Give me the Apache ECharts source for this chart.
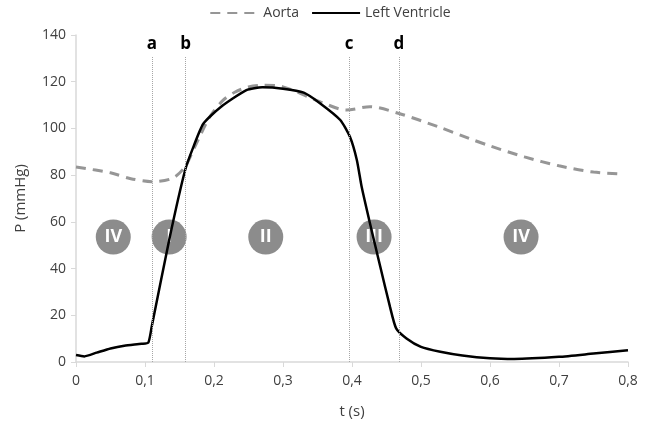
<!DOCTYPE html>
<html><head><meta charset="utf-8">
<script src="https://cdn.jsdelivr.net/npm/echarts@6/dist/echarts.min.js"></script>
<style>html,body{margin:0;padding:0;background:#fff}#c{width:660px;height:428px}</style>
</head><body><div id="c"></div>
<script>
var aortaT = [0,0.05,0.078,0.11,0.14,0.158,0.172,0.194,0.213,0.23,0.25,0.27,0.3,0.354,0.392,0.426,0.467,0.525,0.57,0.6,0.65,0.7,0.75,0.79];
var aortaP = [83.5,81,78.6,77.2,78.7,83.6,92,105,112,115.5,117.8,118.5,117.8,111.4,107.9,109.3,106.5,100.7,95.7,92.5,87.8,84,81.3,80.5];
var lvT = [0,0.012,0.03,0.05,0.07,0.095,0.1048,0.1097,0.136,0.158,0.17,0.1845,0.209,0.247,0.27,0.3,0.33,0.354,0.383,0.397,0.407,0.414,0.426,0.441,0.455,0.464,0.479,0.5,0.528,0.56,0.6,0.635,0.7,0.75,0.8];
var lvP = [3,2.4,4,5.8,7,7.8,8.3,15.1,53.6,82,92,102,109,116.4,117.6,117,115.3,110.7,103.6,96.4,86.5,75,59.4,40.8,23.7,14.4,10.1,6.5,4.4,2.8,1.6,1.3,2.2,3.6,5];
var phaseT = [0.11,0.159,0.396,0.468];
var phaseLabels = ['a','b','c','d'];
var circleT = [0.054,0.135,0.275,0.432,0.645];
var circleLabels = ['IV','I','II','III','IV'];
var circleP = 53.5;

var font = 'Open Sans';
var chart = echarts.init(document.getElementById('c'));
function zip(a,b){return a.map(function(v,i){return [v,b[i]];});}
chart.setOption({
  animation:false,
  textStyle:{fontFamily:font},
  legend:{top:1,left:'center',itemWidth:48,itemGap:12,itemStyle:{opacity:0},
    textStyle:{fontSize:14,color:'#404040',fontFamily:font},
    data:['Aorta','Left Ventricle']},
  grid:{left:76,right:32,top:35,bottom:66},
  xAxis:{type:'value',min:0,max:0.8,interval:0.1,
    name:'t (s)',nameLocation:'middle',nameGap:42,nameTextStyle:{fontSize:15,color:'#404040'},
    axisLine:{lineStyle:{color:'#d9d9d9',width:1.5}},axisTick:{show:true,length:5,lineStyle:{color:'#d9d9d9'}},
    axisLabel:{fontSize:14,color:'#404040',margin:12,formatter:function(v){return String(+v.toFixed(1)).replace('.',',');}},
    splitLine:{show:false}},
  yAxis:{type:'value',min:0,max:140,interval:20,
    name:'P (mmHg)',nameLocation:'middle',nameGap:48,nameTextStyle:{fontSize:15,color:'#404040'},
    axisLine:{show:true,lineStyle:{color:'#d9d9d9',width:1.5}},axisTick:{show:true,length:5,lineStyle:{color:'#d9d9d9'}},
    axisLabel:{fontSize:14,color:'#404040',margin:10},
    splitLine:{show:false}},
  series:[
    {type:'scatter',name:'phases',z:1,data:circleT.map(function(t,i){return {value:[t,circleP],label:{formatter:circleLabels[i]}};}),
      symbolSize:35,itemStyle:{color:'#8c8c8c',opacity:1},
      label:{show:true,position:'inside',color:'#fff',fontWeight:'bold',fontSize:18,fontFamily:font},
      silent:true},
    {type:'line',name:'marks',z:2,data:[],symbol:'none',
      markLine:{silent:true,symbol:'none',
        lineStyle:{type:'dotted',color:'#a6a6a6',width:1},
        label:{show:true,position:'end',color:'#000',fontWeight:'bold',fontSize:17,distance:3,fontFamily:font},
        data:phaseT.map(function(t,i){return [{coord:[t,0],label:{formatter:phaseLabels[i]}},{coord:[t,131]}];})}},
    {type:'line',name:'Aorta',z:3,data:zip(aortaT,aortaP),smooth:0.3,symbol:'none',
      lineStyle:{color:'#969696',width:3,type:[10,7]},itemStyle:{color:'#969696'}},
    {type:'line',name:'Left Ventricle',z:4,data:zip(lvT,lvP),smooth:0.2,symbol:'none',
      lineStyle:{color:'#000',width:2.5},itemStyle:{color:'#000'}}
  ]
});
</script></body></html>
